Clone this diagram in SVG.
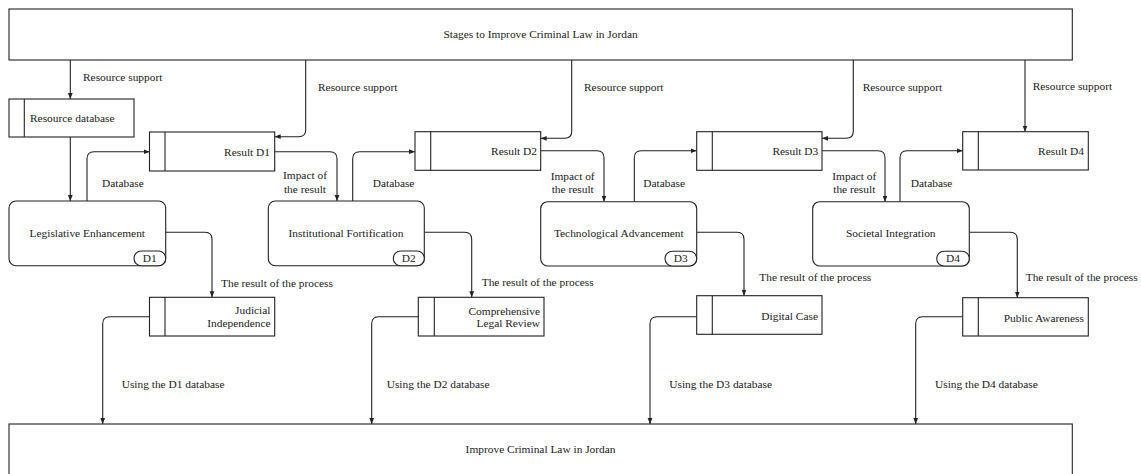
<svg xmlns="http://www.w3.org/2000/svg" width="1141" height="474" viewBox="0 0 1141 474">
<style>
text{font-family:"Liberation Serif","Times New Roman",serif;font-size:11.4px;fill:#222}
.box{fill:#fff;stroke:#222;stroke-width:1.1}
.ln{fill:none;stroke:#222;stroke-width:1.1}
.c{text-anchor:middle}
.r{text-anchor:end}
</style>
<defs>
<marker id="ah" viewBox="0 0 10 10" refX="10" refY="5" markerWidth="6" markerHeight="6" markerUnits="userSpaceOnUse" orient="auto">
<path d="M0,1 L10,5 L0,9 z" fill="#222"/>
</marker>
</defs>
<rect width="1141" height="474" fill="#fff"/>
<g id="connectors" class="ln" marker-end="url(#ah)">
<path d="M70.3,60 V99"/>
<path d="M70.3,137 V201"/>
<path d="M305.7,60 V129.7 Q305.7,136.7 298.7,136.7 H274.7"/>
<path d="M87,201 V158.7 Q87,151.7 94,151.7 H149.5"/>
<path d="M274.7,151.7 H330 Q337,151.7 337,158.7 V201"/>
<path d="M165.7,232.3 H205 Q212,232.3 212,239.3 V297.3"/>
<path d="M149.5,316.7 H109.7 Q102.7,316.7 102.7,323.7 V424"/>
<path d="M571.7,60 V131.3 Q571.7,138.3 564.7,138.3 H540.7"/>
<path d="M352.7,201 V158.7 Q352.7,151.7 359.7,151.7 H415"/>
<path d="M540.7,150.7 H597 Q604,150.7 604,157.7 V201.7"/>
<path d="M424.3,232.3 H464.7 Q471.7,232.3 471.7,239.3 V297.3"/>
<path d="M418.3,316.7 H378.7 Q371.7,316.7 371.7,323.7 V424"/>
<path d="M853.3,60 V131.3 Q853.3,138.3 846.3,138.3 H822"/>
<path d="M634.3,201.7 V157.7 Q634.3,150.7 641.3,150.7 H696.7"/>
<path d="M822,150.7 H878 Q885,150.7 885,157.7 V201.7"/>
<path d="M696.7,232.3 H737 Q744,232.3 744,239.3 V295.7"/>
<path d="M696.7,316.7 H657 Q650,316.7 650,323.7 V424"/>
<path d="M1025,60 V131.7"/>
<path d="M900,201.7 V157.7 Q900,150.7 907,150.7 H962.7"/>
<path d="M969.3,232.3 H1010.3 Q1017.3,232.3 1017.3,239.3 V297.7"/>
<path d="M962.7,316.7 H922.7 Q915.7,316.7 915.7,323.7 V424"/>
</g>
<g id="connector-labels">
<text x="83" y="81">Resource support</text>
<text x="318" y="91">Resource support</text>
<text x="584" y="90.5">Resource support</text>
<text x="862.7" y="90.5">Resource support</text>
<text x="1032.7" y="89.5">Resource support</text>
<text x="102" y="186.5">Database</text>
<text x="372.7" y="186.5">Database</text>
<text x="643.3" y="186.5">Database</text>
<text x="910.7" y="186.5">Database</text>
<text class="c" x="305" y="179">Impact of</text>
<text class="c" x="305" y="193">the result</text>
<text class="c" x="572.7" y="179.5">Impact of</text>
<text class="c" x="572.7" y="193">the result</text>
<text class="c" x="854.3" y="179.5">Impact of</text>
<text class="c" x="854.3" y="193">the result</text>
<text x="221" y="287">The result of the process</text>
<text x="481.7" y="285.5">The result of the process</text>
<text x="759.3" y="280.5">The result of the process</text>
<text x="1025.7" y="280.5">The result of the process</text>
<text x="121.7" y="388">Using the D1 database</text>
<text x="386.7" y="388">Using the D2 database</text>
<text x="669.3" y="388">Using the D3 database</text>
<text x="935" y="388">Using the D4 database</text>
</g>
<g id="stages">
<rect class="box" x="9" y="9" width="1063.3" height="51"/>
<text class="c" x="540.6" y="38.3">Stages to Improve Criminal Law in Jordan</text>
</g>
<g id="improve">
<rect class="box" x="9" y="424" width="1063.3" height="70"/>
<text class="c" x="540.6" y="453.3">Improve Criminal Law in Jordan</text>
</g>
<g id="resource-database">
<rect class="box" x="9" y="99" width="125" height="38"/>
<line class="ln" x1="24.3" y1="99" x2="24.3" y2="137"/>
<text x="30" y="122">Resource database</text>
</g>
<g id="result-d1">
<rect class="box" x="149.5" y="132" width="125.2" height="39"/>
<line class="ln" x1="165" y1="132" x2="165" y2="171"/>
<text class="r" x="270" y="155.5">Result D1</text>
</g>
<g id="result-d2">
<rect class="box" x="415" y="131.7" width="125.7" height="38.6"/>
<line class="ln" x1="430.7" y1="131.7" x2="430.7" y2="170.3"/>
<text class="r" x="537" y="155">Result D2</text>
</g>
<g id="result-d3">
<rect class="box" x="696.7" y="131.7" width="125.3" height="38.6"/>
<line class="ln" x1="712.3" y1="131.7" x2="712.3" y2="170.3"/>
<text class="r" x="818.3" y="155">Result D3</text>
</g>
<g id="result-d4">
<rect class="box" x="962.7" y="131.7" width="125.6" height="38.3"/>
<line class="ln" x1="978.3" y1="131.7" x2="978.3" y2="170"/>
<text class="r" x="1084" y="155">Result D4</text>
</g>
<g id="legislative">
<rect class="box" x="9" y="201" width="156.7" height="64.7" rx="7"/>
<rect class="box" x="134" y="251" width="31.7" height="14.7" rx="7.3"/>
<text class="c" x="87.3" y="237">Legislative Enhancement</text>
<text class="c" x="149.8" y="262">D1</text>
</g>
<g id="institutional">
<rect class="box" x="268.3" y="201" width="156" height="64.7" rx="7"/>
<rect class="box" x="393.3" y="251" width="31" height="14.7" rx="7.3"/>
<text class="c" x="346" y="237">Institutional Fortification</text>
<text class="c" x="408.8" y="262">D2</text>
</g>
<g id="technological">
<rect class="box" x="540.7" y="201.7" width="156" height="64.3" rx="7"/>
<rect class="box" x="665" y="251.3" width="31.7" height="14.7" rx="7.3"/>
<text class="c" x="618.8" y="237.3">Technological Advancement</text>
<text class="c" x="680.8" y="262.3">D3</text>
</g>
<g id="societal">
<rect class="box" x="812.7" y="201.7" width="156.6" height="64.3" rx="7"/>
<rect class="box" x="936.7" y="251.3" width="32.6" height="14.7" rx="7.3"/>
<text class="c" x="890.8" y="237.3">Societal Integration</text>
<text class="c" x="953" y="262.3">D4</text>
</g>
<g id="judicial">
<rect class="box" x="149.5" y="297.3" width="125.2" height="38.7"/>
<line class="ln" x1="165" y1="297.3" x2="165" y2="336"/>
<text class="r" x="270.5" y="314">Judicial</text>
<text class="r" x="270.5" y="327.3">Independence</text>
</g>
<g id="comprehensive">
<rect class="box" x="418.3" y="297.3" width="125.7" height="38.7"/>
<line class="ln" x1="434.3" y1="297.3" x2="434.3" y2="336"/>
<text class="r" x="540" y="314.5">Comprehensive</text>
<text class="r" x="540" y="327.3">Legal Review</text>
</g>
<g id="digital">
<rect class="box" x="696.7" y="295.7" width="125.3" height="38.6"/>
<line class="ln" x1="712.3" y1="295.7" x2="712.3" y2="334.3"/>
<text class="r" x="818" y="319.5">Digital Case</text>
</g>
<g id="public">
<rect class="box" x="962.7" y="297.7" width="125.6" height="38.3"/>
<line class="ln" x1="978.3" y1="297.7" x2="978.3" y2="336"/>
<text class="r" x="1084" y="321.5">Public Awareness</text>
</g>
</svg>
